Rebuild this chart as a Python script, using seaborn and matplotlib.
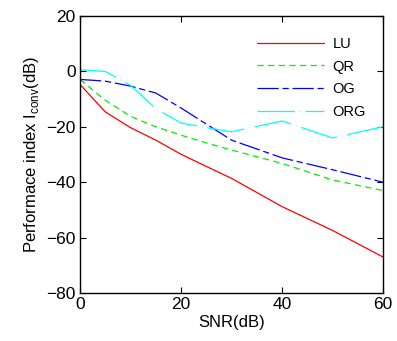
import numpy as np
import pandas as pd
import matplotlib
matplotlib.use("Agg")
import matplotlib.pyplot as plt
import seaborn as sns

snr = [0, 5, 10, 15, 20, 25, 30, 40, 50, 60]
lu  = [-4.7, -14.6, -20.3, -24.8, -29.9, -34.3, -38.6, -48.8, -57.4, -67.0]
qr  = [-2.9, -10.4, -16.2, -20.0, -23.0, -25.8, -28.4, -33.2, -39.2, -43.0]
og  = [-2.9, -3.5, -5.3, -7.8, -13.2, -19.0, -24.8, -31.2, -35.5, -40.0]
org = [0.6, 0.0, -5.0, -13.4, -18.6, -20.3, -21.8, -17.9, -24.0, -20.0]
methods = ["LU", "QR", "OG", "ORG"]
colors = ["#ff0000", "#00ee00", "#0000ff", "#00ffff"]
xticks = [0, 20, 40, 60]
yticks = [-80, -60, -40, -20, 0, 20]

sns.set_theme(style="ticks")
plt.rcParams['font.family'] = ['Liberation Sans', 'DejaVu Sans']
plt.rcParams['mathtext.fontset'] = 'custom'
plt.rcParams['mathtext.rm'] = 'Liberation Sans'
plt.rcParams['axes.labelcolor'] = 'black'
plt.rcParams['text.color'] = 'black'
plt.rcParams['xtick.color'] = 'black'
plt.rcParams['ytick.color'] = 'black'

frames = []
for name, vals in zip(methods, [lu, qr, og, org]):
    frames.append(pd.DataFrame({"SNR": snr, "val": vals, "method": name}))
df = pd.concat(frames, ignore_index=True)

fig = plt.figure(figsize=(3.97, 3.41), dpi=100)
ax = fig.add_axes([0.2015, 0.1408, 0.7632, 0.8122])

dashes = {"LU": "", "QR": (5, 3.5), "OG": (17, 3, 5, 3), "ORG": (30, 4, 0.5, 4)}
sns.lineplot(data=df, x="SNR", y="val", hue="method", style="method",
             hue_order=methods, style_order=methods,
             palette=dict(zip(methods, colors)), dashes=dashes,
             linewidth=0.9, ax=ax, legend=True)

ax.set_xlim(0, 60)
ax.set_ylim(-80, 20)
ax.set_xticks(xticks)
ax.set_yticks(yticks)
ax.tick_params(direction="in", top=True, right=True, length=4, width=0.8,
               labelsize=12.5, colors="black", labelcolor="black", pad=3)
for s in ax.spines.values():
    s.set_visible(True)
    s.set_color("black")
    s.set_linewidth(1.0)
ax.set_xlabel("SNR(dB)", fontsize=12, labelpad=2, color="black")
ax.set_ylabel("Performace index I$_\\mathregular{conv}$(dB)", fontsize=12,
              labelpad=4, color="black")

leg = ax.legend(loc="upper right", frameon=False, fontsize=10.5,
                handlelength=4.6, handletextpad=0.6, labelspacing=0.6,
                borderaxespad=0.3, bbox_to_anchor=(0.978, 0.962))
for t in leg.get_texts():
    t.set_color("black")

fig.savefig("out.png", dpi=100)
